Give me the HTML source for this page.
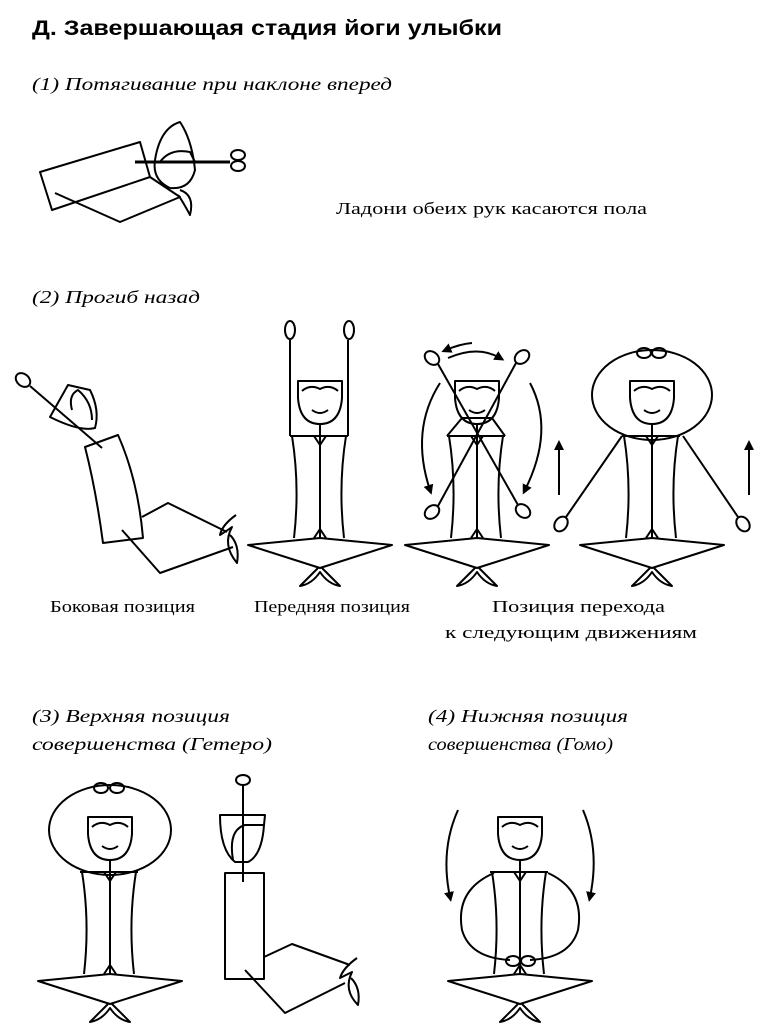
<!DOCTYPE html>
<html><head><meta charset="utf-8"><style>
body{margin:0;background:#fff;}
svg{display:block}
.t{font-family:"Liberation Serif",serif;font-size:17px}
.i{font-family:"Liberation Serif",serif;font-style:italic;font-size:18px}
</style></head><body>
<svg width="768" height="1034" viewBox="0 0 768 1034" xmlns="http://www.w3.org/2000/svg">
<defs>
<g id="fig" fill="none" stroke="#000" stroke-width="2" stroke-linejoin="round">
  <path d="M-28,0 Q-20,50 -26,102"/><path d="M26,0 Q18,50 24,102"/>
  <line x1="-30" y1="0" x2="28" y2="0"/>
  <line x1="0" y1="0" x2="0" y2="102"/>
  <path d="M-6,0 L6,0 L0,9 Z"/><path d="M-6,102 L0,93 L6,102"/>
  <line x1="0" y1="-12" x2="0" y2="0"/>
  <path d="M-22,-55 L22,-55 L22,-38 Q20,-12 0,-12 Q-20,-12 -22,-38 Z"/>
  <path d="M-18,-45 Q-10,-52 0,-47 Q10,-52 18,-45"/>
  <path d="M-8,-26 Q0,-20 8,-26"/>
  <path d="M-72,109 L0,102 L72,109 L0,132 Z"/>
  <path d="M-2,132 Q-10,140 -20,150 Q-8,148 0,136 Q8,148 20,150 Q10,140 2,132"/>
</g>
<marker id="ah" viewBox="0 0 10 10" refX="5" refY="5" markerWidth="5" markerHeight="5" orient="auto"><path d="M0,0 L10,5 L0,10 Z"/></marker>
</defs>

<text x="32" y="35" textLength="470" lengthAdjust="spacingAndGlyphs" style="font-family:'Liberation Sans',sans-serif;font-weight:bold;font-size:21px">Д. Завершающая стадия йоги улыбки</text>
<text class="i" x="32" y="90" textLength="360" lengthAdjust="spacingAndGlyphs">(1) Потягивание при наклоне вперед</text>
<text class="t" x="336" y="214" textLength="311" lengthAdjust="spacingAndGlyphs">Ладони обеих рук касаются пола</text>
<text class="i" x="32" y="303" textLength="168" lengthAdjust="spacingAndGlyphs">(2) Прогиб назад</text>
<text class="t" x="50" y="612" textLength="145" lengthAdjust="spacingAndGlyphs">Боковая позиция</text>
<text class="t" x="254" y="612" textLength="156" lengthAdjust="spacingAndGlyphs">Передняя позиция</text>
<text class="t" x="492" y="612" textLength="173" lengthAdjust="spacingAndGlyphs">Позиция перехода</text>
<text class="t" x="445" y="638" textLength="252" lengthAdjust="spacingAndGlyphs">к следующим движениям</text>
<text class="i" x="32" y="722" textLength="198" lengthAdjust="spacingAndGlyphs">(3) Верхняя позиция</text>
<text class="i" x="32" y="750" textLength="240" lengthAdjust="spacingAndGlyphs">совершенства (Гетеро)</text>
<text class="i" x="428" y="722" textLength="200" lengthAdjust="spacingAndGlyphs">(4) Нижняя позиция</text>
<text class="i" x="428" y="750" textLength="185" lengthAdjust="spacingAndGlyphs">совершенства (Гомо)</text>

<g fill="none" stroke="#000" stroke-width="2" stroke-linejoin="round">
<!-- (1) -->
<path d="M40,172 L140,142 L150,177 L52,210 Z"/>
<path d="M55,193 L120,222 L180,197 L150,177"/>
<path d="M155,160 Q160,128 180,122 Q192,140 195,170 Q190,190 170,188 Q152,180 155,160"/>
<path d="M160,162 Q170,148 190,152 L195,162"/>
<line x1="135" y1="162" x2="230" y2="162" stroke-width="3"/>
<ellipse cx="238" cy="155" rx="7" ry="5"/><ellipse cx="238" cy="166" rx="7" ry="5"/>
<path d="M180,190 Q195,195 190,215 Q182,200 178,195"/>

<!-- side figure -->
<ellipse cx="23" cy="380" rx="8" ry="6" transform="rotate(40 23 380)"/>
<line x1="30" y1="386" x2="102" y2="448"/>
<path d="M50,417 L68,385 L90,390 Q100,410 95,428 Q80,432 50,417 Z"/>
<path d="M72,410 Q68,395 78,390 Q92,402 92,420"/>
<path d="M85,447 L118,435 Q138,480 143,538 L103,543 Q96,490 85,447 Z"/>
<path d="M142,517 L168,503 L227,532"/>
<path d="M122,530 L160,573 L233,547"/>
<path d="M236,515 Q222,525 220,535 Q228,530 232,527 Q222,545 237,563 Q240,545 230,535"/>

<!-- front figure arms -->
<line x1="290" y1="436" x2="290" y2="340"/><ellipse cx="290" cy="330" rx="5" ry="9"/>
<line x1="348" y1="436" x2="348" y2="340"/><ellipse cx="349" cy="330" rx="5" ry="9"/>

<!-- crossed figure arms -->
<ellipse cx="432" cy="358" rx="8" ry="6" transform="rotate(40 432 358)"/>
<ellipse cx="522" cy="357" rx="8" ry="6" transform="rotate(-40 522 357)"/>
<ellipse cx="432" cy="512" rx="8" ry="6" transform="rotate(-40 432 512)"/>
<ellipse cx="523" cy="511" rx="8" ry="6" transform="rotate(40 523 511)"/>
<line x1="438" y1="364" x2="518" y2="505"/>
<line x1="516" y1="363" x2="438" y2="506"/>
<line x1="447" y1="436" x2="505" y2="436"/>
<path d="M447,436 L462,418 L492,418 L505,436"/>
<path d="M440,383 Q410,430 430,490" marker-end="url(#ah)"/>
<path d="M530,383 Q555,430 525,490" marker-end="url(#ah)"/>
<path d="M448,358 Q478,345 500,358" marker-end="url(#ah)"/>
<path d="M472,343 Q460,344 446,350" marker-end="url(#ah)"/>

<!-- right figure -->
<ellipse cx="652" cy="395" rx="60" ry="45"/>
<ellipse cx="644" cy="353" rx="7" ry="5"/><ellipse cx="659" cy="353" rx="7" ry="5"/>
<line x1="622" y1="436" x2="566" y2="517"/><ellipse cx="561" cy="524" rx="8" ry="6" transform="rotate(-55 561 524)"/>
<line x1="683" y1="436" x2="738" y2="517"/><ellipse cx="743" cy="524" rx="8" ry="6" transform="rotate(55 743 524)"/>
<line x1="559" y1="495" x2="559" y2="445" marker-end="url(#ah)"/>
<line x1="749" y1="495" x2="749" y2="445" marker-end="url(#ah)"/>

<!-- hetero -->
<ellipse cx="110" cy="830" rx="61" ry="45"/>
<ellipse cx="101" cy="788" rx="7" ry="5"/><ellipse cx="117" cy="788" rx="7" ry="5"/>

<!-- side straight -->
<ellipse cx="243" cy="780" rx="7" ry="5"/>
<line x1="243" y1="785" x2="243" y2="882"/>
<path d="M220,815 L265,815 L264,825 Q262,855 248,862 L235,862 Q220,850 220,815 Z"/>
<path d="M233,860 Q228,830 245,825 L264,825"/>
<rect x="225" y="873" width="39" height="106"/>
<path d="M264,957 L292,944 L350,965"/>
<path d="M245,970 L285,1013 L345,983"/>
<path d="M357,958 Q343,968 340,978 Q348,974 352,972 Q343,990 358,1005 Q361,988 351,978"/>

<!-- homo -->
<path d="M494,873 Q455,890 462,930 Q470,958 510,960"/>
<path d="M548,873 Q585,890 578,930 Q570,958 530,960"/>
<ellipse cx="513" cy="961" rx="7" ry="5"/><ellipse cx="528" cy="961" rx="7" ry="5"/>
<path d="M458,810 Q440,850 450,897" marker-end="url(#ah)"/>
<path d="M583,810 Q600,850 590,897" marker-end="url(#ah)"/>
</g>

<use href="#fig" transform="translate(320,436)"/>
<use href="#fig" transform="translate(477,436)"/>
<use href="#fig" transform="translate(652,436)"/>
<use href="#fig" transform="translate(110,872)"/>
<use href="#fig" transform="translate(520,872)"/>
</svg>
</body></html>
